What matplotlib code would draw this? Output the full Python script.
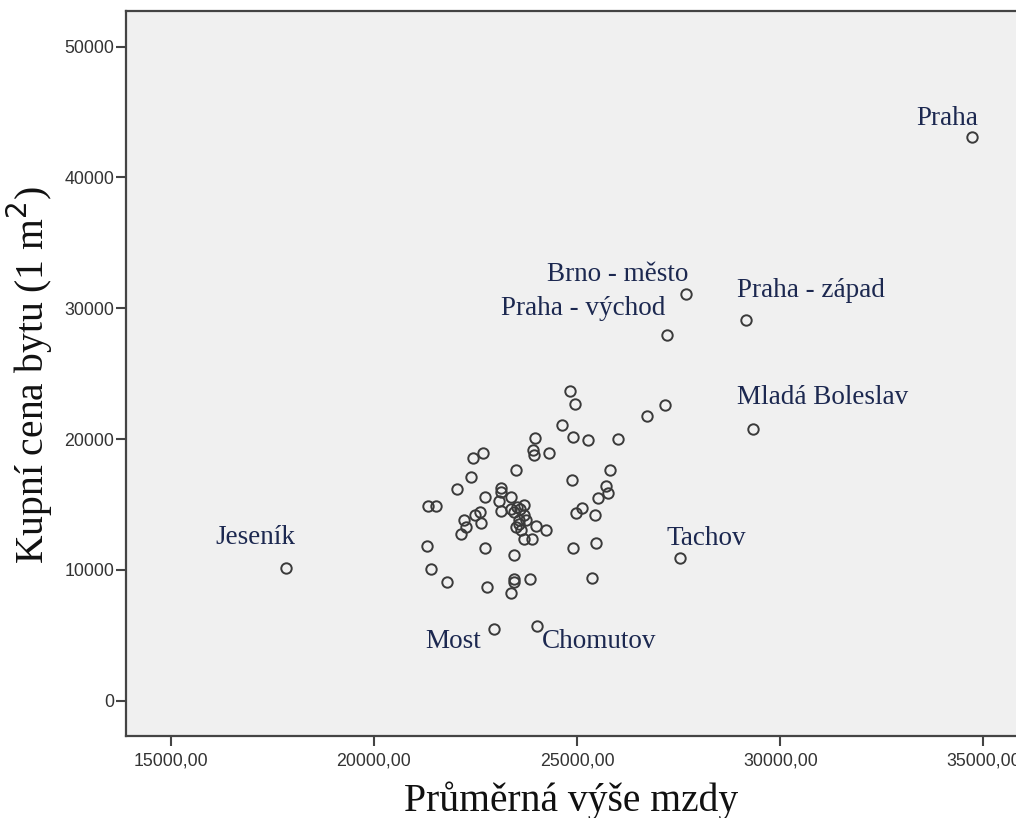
import matplotlib
matplotlib.use("Agg")
import matplotlib.pyplot as plt
from matplotlib.ticker import FuncFormatter, FixedLocator

# Labelled districts
label_names = ["Praha", "Brno - město", "Praha - západ", "Praha - východ",
               "Mladá Boleslav", "Tachov", "Jeseník", "Most", "Chomutov"]
label_wage = [34721, 27682, 29153, 27213, 29335, 27541, 17845, 22965, 24006]
label_price = [43125, 31108, 29068, 27922, 20764, 10863, 10099, 5447, 5691]

# Other districts
wage = [24835, 24938, 26727, 27171, 24630, 24909, 25279, 25999, 23964, 23902,
        23927, 24302, 22681, 22439, 23488, 22377, 22032, 24877, 25802, 25715,
        25753, 25506, 22742, 23125, 23130, 23364, 21329, 21533, 23076, 23125,
        23371, 23520, 23692, 23680, 23453, 23562, 23495, 23618, 23700, 23877,
        23981, 24235, 25116, 24970, 25432, 22607, 22496, 22631, 22219, 22261,
        22138, 21299, 22730, 23438, 24889, 25452, 21410, 21785, 22772, 23453,
        23453, 23840, 23364, 25370, 23593, 23569, 23741]
price = [23643, 22650, 21733, 22573, 21068, 20152, 19900, 19976, 20075, 19136,
         18754, 18960, 18930, 18525, 17608, 17111, 16179, 16844, 17646, 16424,
         15874, 15507, 15599, 16271, 15912, 15545, 14881, 14881, 15224, 14514,
         14682, 14835, 14972, 14170, 14422, 13788, 13277, 13024, 12390, 12390,
         13368, 13024, 14743, 14346, 14209, 14422, 14170, 13582, 13788, 13277,
         12757, 11825, 11672, 11153, 11627, 12009, 10030, 9029, 8693, 9320,
         9037, 9320, 8189, 9335, 14629, 13483, 13788]

x_ticks = [15000, 20000, 25000, 30000, 35000]
y_ticks = [0, 10000, 20000, 30000, 40000, 50000]

# label offsets in pixels (dx, dy, ha)
label_offsets = [(6, 12, "right"), (2, 13, "right"), (-9, 23, "left"),
                 (-2, 20, "right"), (-16, 25, "left"), (-14, 13, "left"),
                 (9, 24, "right"), (-13, -19, "right"), (5, -22, "left")]

fig = plt.figure(figsize=(10.16, 8.18), dpi=100)
fig.patch.set_facecolor("white")
ax = fig.add_axes([125.5 / 1016, 82 / 818, 1 - 125.5 / 1016 + 0.02, 725 / 818])
ax.set_facecolor("#F0F0F0")

mk = dict(marker="o", linestyle="none", markersize=7.5, markerfacecolor="none",
          markeredgecolor="#3a3a3a", markeredgewidth=1.4)
ax.plot(wage, price, **mk)
ax.plot(label_wage, label_price, **mk)

for name, xv, yv, (dx, dy, ha) in zip(label_names, label_wage, label_price, label_offsets):
    ax.annotate(name, (xv, yv), xytext=(dx, dy), textcoords="offset pixels",
                ha=ha, va="baseline", fontsize=19.5, family="Liberation Serif",
                color="#1c2850")

ax.set_xlim(13885, 36300)
ax.set_ylim(-2712, 52730)
ax.xaxis.set_major_locator(FixedLocator(x_ticks))
ax.yaxis.set_major_locator(FixedLocator(y_ticks))
ax.xaxis.set_major_formatter(FuncFormatter(lambda v, p: f"{v:.2f}".replace(".", ",")))
ax.yaxis.set_major_formatter(FuncFormatter(lambda v, p: f"{int(v)}"))

for s in ["left", "bottom", "top"]:
    ax.spines[s].set_color("#444444")
    ax.spines[s].set_linewidth(1.6)
ax.spines["right"].set_visible(False)
ax.tick_params(axis="x", direction="out", length=7, width=1.5, color="#444444",
               pad=5, labelsize=12.8, labelcolor="#333333")
ax.tick_params(axis="y", direction="out", length=7, width=1.5, color="#444444",
               pad=1, labelsize=12.8, labelcolor="#333333")
for lab in ax.get_xticklabels() + ax.get_yticklabels():
    lab.set_family("Liberation Sans")

fig.text(571 / 1016, 1 - 811 / 818, "Průměrná výše mzdy", fontsize=28.5,
         family="Liberation Serif", color="#111111", ha="center", va="baseline")
fig.text(30 / 1016, 1 - 375 / 818, "Kupní cena bytu (1 m$^2$)", fontsize=28.5,
         family="Liberation Serif", color="#111111", ha="center", va="center",
         rotation=90)

fig.savefig("out.png", dpi=100)
